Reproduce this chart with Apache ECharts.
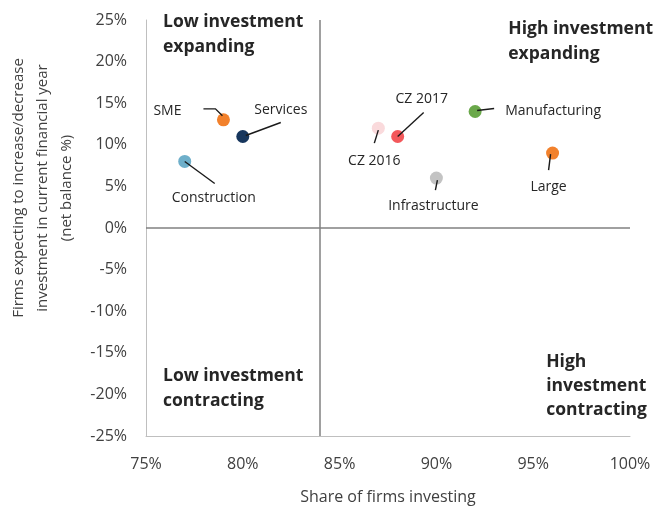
<!DOCTYPE html>
<html>
<head>
<meta charset="utf-8">
<script src="https://cdn.jsdelivr.net/npm/echarts@6/dist/echarts.min.js"></script>
<style>
html,body{margin:0;padding:0;background:#fff;}
#chart{width:655px;height:510px;}
</style>
</head>
<body>
<div id="chart"></div>
<script>
// data
var names = ['SME', 'Services', 'Construction', 'CZ 2016', 'CZ 2017', 'Manufacturing', 'Large', 'Infrastructure'];
var shareInvesting = [79, 80, 77, 87, 88, 92, 96, 90];
var netBalance = [13, 11, 8, 12, 11, 14, 9, 6];
var colors = ['#F2812C', '#17365D', '#6EAFCA', '#FADADC', '#F3585B', '#6AA84A', '#F2812C', '#C3C3C3'];
// label offsets from the dot (px)
var labelOffsets = [[-56, -9], [38, -26], [29, 37], [-4, 33], [24, -37], [78, -1], [-4, 34], [-3, 28]];
// leader line points relative to the dot (px)
var leaderLines = [
	[[-20, -11], [-8, -11], [-1, -4]],
	[[3, -1], [38, -14]],
	[[0, 0], [30, 22]],
	[[0, 2], [-4, 15]],
	[[0, 0], [26, -24]],
	[[2, -1], [19, -3]],
	[[-2, 1], [-4, 17]],
	[[1, 2], [-1, 12]]
];
var xDivider = 84;

var font = '"Open Sans", "Noto Sans", sans-serif';

var _$ = function(id){return document.getElementById(id)};
var myChart = echarts.init(_$('chart'));

var points = names.map(function(n, i){
	return {
		name: n,
		value: [shareInvesting[i], netBalance[i]],
		itemStyle: {color: colors[i], opacity: 1}
	};
});

var option = {
	animation: false,
	grid: {left: 146, right: 25, top: 20, bottom: 69},
	xAxis: {
		type: 'value',
		min: 75, max: 100, interval: 5,
		name: 'Share of firms investing',
		nameLocation: 'middle',
		nameGap: 53,
		nameTextStyle: {fontFamily: font, fontSize: 16, color: '#404040'},
		axisLine: {onZero: false, lineStyle: {color: '#BFBFBF'}},
		axisTick: {show: false},
		splitLine: {show: false},
		axisLabel: {
			margin: 20, fontFamily: font, fontSize: 16, color: '#404040',
			formatter: function(v){return v + '%'}
		}
	},
	yAxis: {
		type: 'value',
		min: -25, max: 25, interval: 5,
		axisLine: {show: true, onZero: false, lineStyle: {color: '#BFBFBF'}},
		axisTick: {show: false},
		splitLine: {show: false},
		axisLabel: {
			margin: 19, fontFamily: font, fontSize: 16, color: '#404040',
			padding: [6, 0, 0, 0],
			formatter: function(v){return v + '%'}
		}
	},
	graphic: [
		{type: 'text', x: 43, y: 188, rotation: Math.PI / 2,
			style: {text: 'Firms expecting to increase/decrease\ninvestment in current financial year\n(net balance %)',
				fontFamily: font, fontSize: 15, lineHeight: 24, fill: '#404040', align: 'center', verticalAlign: 'middle'}},
		{type: 'text', left: 163, top: 10,
			style: {text: 'Low investment\nexpanding', fontFamily: font, fontSize: 17.5, fontWeight: 'bold',
				lineHeight: 25, fill: '#262626', align: 'left'}},
		{type: 'text', right: 2, top: 17,
			style: {text: 'High investment\nexpanding', fontFamily: font, fontSize: 17.5, fontWeight: 'bold',
				lineHeight: 25, fill: '#262626', align: 'right'}},
		{type: 'text', left: 163, top: 364,
			style: {text: 'Low investment\ncontracting', fontFamily: font, fontSize: 17.5, fontWeight: 'bold',
				lineHeight: 25, fill: '#262626', align: 'left'}},
		{type: 'text', right: 8, top: 350,
			style: {text: 'High\ninvestment\ncontracting', fontFamily: font, fontSize: 17.5, fontWeight: 'bold',
				lineHeight: 24, fill: '#262626', align: 'right'}}
	],
	series: [
		{
			type: 'scatter',
			symbolSize: 13,
			data: points,
			label: {
				show: true,
				position: 'inside',
				formatter: '{b}',
				fontFamily: font,
				fontSize: 14,
				color: '#262626'
			},
			labelLayout: function(p){
				var o = labelOffsets[p.dataIndex];
				return {dx: o[0], dy: o[1]};
			},
			markLine: {
				silent: true,
				symbol: 'none',
				label: {show: false},
				lineStyle: {color: '#808080', type: 'solid', width: 1.5},
				data: [{xAxis: xDivider}, {yAxis: 0}]
			},
			z: 3
		},
		{
			// leader lines, anchored at each dot
			type: 'custom',
			silent: true,
			z: 4,
			data: names.map(function(n, i){return [shareInvesting[i], netBalance[i]]}),
			renderItem: function(params, api){
				var c = api.coord([api.value(0), api.value(1)]);
				var pts = leaderLines[params.dataIndex].map(function(d){return [c[0] + d[0], c[1] + d[1]]});
				return {
					type: 'polyline',
					shape: {points: pts},
					style: {stroke: '#1a1a1a', lineWidth: 1.4, fill: null}
				};
			}
		}
	]
};
myChart.setOption(option);
</script>
</body>
</html>
